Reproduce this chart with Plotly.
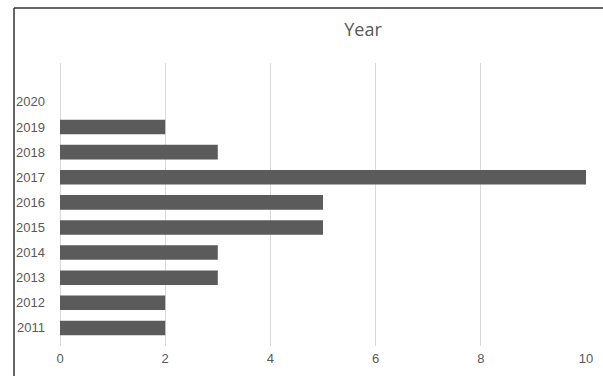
import plotly.graph_objects as go

years = ["2011", "2012", "2013", "2014", "2015", "2016", "2017", "2018", "2019", "2020"]
counts = [2, 2, 3, 3, 5, 5, 10, 3, 2, None]
x_ticks = [0, 2, 4, 6, 8, 10]

W, H = 603, 376
ML, MR, MT, MB = 60, 17, 63, 30
pw = W - ML - MR
ph = H - MT - MB

def px_x(p):
    return (p - ML) / pw

def px_y(p):
    return (H - MB - p) / ph

fig = go.Figure(go.Bar(
    y=list(range(len(years))),
    x=counts,
    orientation="h",
    width=0.58,
    marker=dict(color="#5b5b5b", line=dict(width=0)),
    hoverinfo="x+y",
))

fig.update_layout(
    width=W, height=H,
    margin=dict(l=ML, r=MR, t=MT, b=MB, autoexpand=False),
    paper_bgcolor="white",
    plot_bgcolor="white",
    showlegend=False,
    font=dict(family="Liberation Sans, Arial, sans-serif", color="#595959", size=13),
    title=dict(text="Year", x=363 / W, xanchor="center", y=1 - 30 / H, yanchor="middle",
               font=dict(size=18, color="#595959", family="Open Sans, Liberation Sans, sans-serif")),
    xaxis=dict(range=[0, 10], tickvals=x_ticks, ticktext=[str(v) for v in x_ticks],
               showgrid=True, gridcolor="#d9d9d9", gridwidth=1,
               zeroline=True, zerolinecolor="#d9d9d9", zerolinewidth=1,
               showline=False, ticks="", ticklabelstandoff=3, fixedrange=True,
               automargin=False),
    yaxis=dict(range=[-0.72, 10.55], tickvals=list(range(len(years))), ticktext=years,
               showgrid=False, zeroline=False, showline=False, ticks="",
               ticklabelstandoff=14, fixedrange=True, automargin=False),
    shapes=[
        dict(type="line", xref="paper", yref="paper", x0=px_x(14), x1=px_x(14),
             y0=px_y(8), y1=px_y(380), line=dict(color="#333333", width=1.5)),
        dict(type="line", xref="paper", yref="paper", x0=px_x(14), x1=px_x(610),
             y0=px_y(8), y1=px_y(8), line=dict(color="#333333", width=1.5)),
    ],
)

fig.write_html("out.html")
